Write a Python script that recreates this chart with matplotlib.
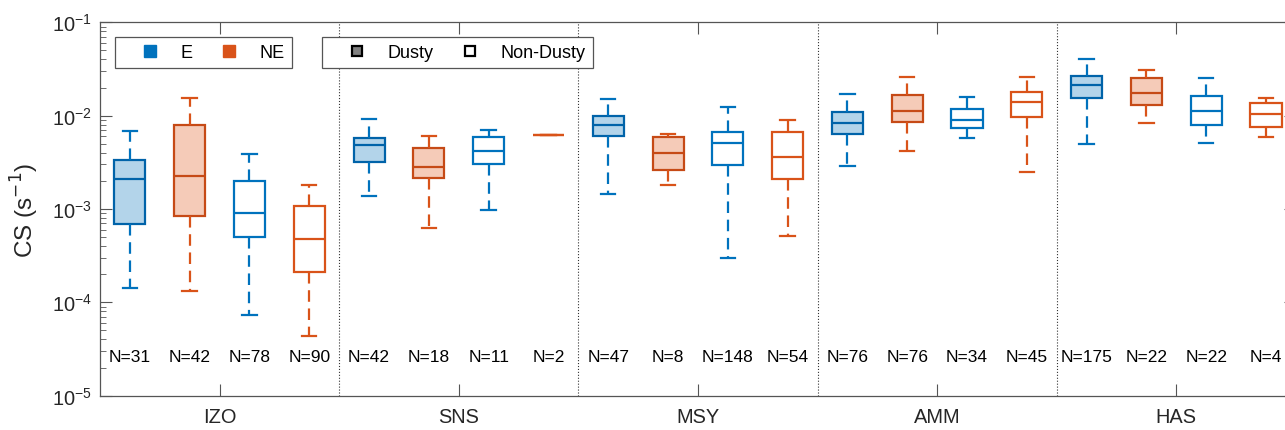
import numpy as np
import matplotlib
matplotlib.use("Agg")
import matplotlib.pyplot as plt
from matplotlib.lines import Line2D

plt.rcParams['font.family'] = ['Liberation Sans', 'DejaVu Sans']

# sites and box order inside each site: E dusty, NE dusty, E non-dusty, NE non-dusty
sites = ['IZO', 'SNS', 'MSY', 'AMM', 'HAS']
sectors = ['E', 'NE', 'E', 'NE']
dusty = [True, True, False, False]

n_obs = [31, 42, 78, 90,
         42, 18, 11, 2,
         47, 8, 148, 54,
         76, 76, 34, 45,
         175, 22, 22, 4]

whislo = [1.42e-4, 1.31e-4, 7.4e-5, 4.33e-5,
          1.37e-3, 6.3e-4, 9.75e-4, 6.26e-3,
          1.44e-3, 1.79e-3, 2.99e-4, 5.1e-4,
          2.86e-3, 4.18e-3, 5.71e-3, 2.51e-3,
          5.0e-3, 8.28e-3, 5.05e-3, 5.86e-3]
q1 = [6.9e-4, 8.4e-4, 5.0e-4, 2.13e-4,
      3.19e-3, 2.15e-3, 3.06e-3, 6.26e-3,
      6.05e-3, 2.61e-3, 2.94e-3, 2.09e-3,
      6.3e-3, 8.55e-3, 7.43e-3, 9.66e-3,
      1.53e-2, 1.29e-2, 7.87e-3, 7.62e-3]
med = [2.11e-3, 2.26e-3, 8.97e-4, 4.76e-4,
       4.89e-3, 2.79e-3, 4.18e-3, 6.26e-3,
       8.0e-3, 3.98e-3, 5.05e-3, 3.63e-3,
       8.28e-3, 1.13e-2, 8.97e-3, 1.40e-2,
       2.11e-2, 1.73e-2, 1.11e-2, 1.04e-2]
q3 = [3.37e-3, 7.94e-3, 2.01e-3, 1.08e-3,
      5.8e-3, 4.54e-3, 5.9e-3, 6.26e-3,
      9.84e-3, 5.9e-3, 6.73e-3, 6.62e-3,
      1.09e-2, 1.65e-2, 1.19e-2, 1.79e-2,
      2.68e-2, 2.55e-2, 1.64e-2, 1.35e-2]
whishi = [6.8e-3, 1.55e-2, 3.91e-3, 1.82e-3,
          9.2e-3, 6.1e-3, 6.97e-3, 6.26e-3,
          1.51e-2, 6.41e-3, 1.24e-2, 8.9e-3,
          1.69e-2, 2.61e-2, 1.58e-2, 2.61e-2,
          4.07e-2, 3.08e-2, 2.51e-2, 1.53e-2]

blue = '#0072BD'
orange = '#D95319'
colors = {'E': blue, 'NE': orange}
dark_edge = {'E': '#0063A9', 'NE': '#C64A16'}
light_fill = {'E': '#B3D4EA', 'NE': '#F5CBB8'}
axis_col = '#555555'
text_col = '#262626'

fig = plt.figure(figsize=(12.85, 4.31), dpi=100)
ax = fig.add_axes([0.0778, 0.0796, 0.9307, 0.8664])

lw = 1.6
for i in range(len(n_obs)):
    sec = sectors[i % 4]
    is_dusty = dusty[i % 4]
    c = colors[sec]
    edge = dark_edge[sec] if is_dusty else c
    face = light_fill[sec] if is_dusty else 'white'
    st = dict(whislo=whislo[i], q1=q1[i], med=med[i], q3=q3[i],
              whishi=whishi[i], fliers=[])
    ax.bxp([st], positions=[i + 1], widths=0.52, capwidths=0.24,
           patch_artist=True, showfliers=False, manage_ticks=False,
           boxprops=dict(facecolor=face, edgecolor=edge, linewidth=lw),
           medianprops=dict(color=edge, linewidth=lw),
           whiskerprops=dict(color=c, linewidth=lw, linestyle=(0, (5.2, 3))),
           capprops=dict(color=c, linewidth=lw))
    ax.text(i + 1, 0.104, 'N=%d' % n_obs[i], transform=ax.get_xaxis_transform(),
            ha='center', va='center', fontsize=12.5, color='black')

for k in range(1, len(sites)):
    ax.axvline(4 * k + 0.5, color='#333333', linestyle=':', linewidth=0.8)

ax.set_yscale('log')
ax.set_ylim(1e-5, 1e-1)
ax.set_xlim(0.5, 20.5)
ax.set_xticks([4 * k + 2.5 for k in range(len(sites))])
ax.set_xticklabels(sites)

ax.tick_params(axis='both', which='both', direction='in', top=True, right=True,
               colors=axis_col, labelcolor=text_col, labelsize=14.4)
ax.tick_params(axis='x', which='major', length=8.6, pad=8)
ax.tick_params(axis='y', which='major', length=8.6, pad=6)
ax.tick_params(axis='y', which='minor', length=4.3)
for sp in ax.spines.values():
    sp.set_color(axis_col)
    sp.set_linewidth(0.9)

ax.set_ylabel('CS (s$^{-1}$)', fontsize=17.5, color=text_col)
ax.yaxis.set_label_coords(-0.049, 0.5)

leg_kw = dict(ncol=2, loc='upper left', borderaxespad=0, fontsize=13,
              fancybox=False, edgecolor=axis_col, framealpha=1,
              handlelength=3.1, handletextpad=0.13, columnspacing=0.47,
              borderpad=0.4)

h1 = [Line2D([], [], marker='s', ls='none', mfc=blue, mec=blue, ms=8.4),
      Line2D([], [], marker='s', ls='none', mfc=orange, mec=orange, ms=8.4)]
leg1 = ax.legend(h1, ['E', 'NE'], bbox_to_anchor=(0.0125, 0.961), **leg_kw)
leg1.get_frame().set_linewidth(0.9)
ax.add_artist(leg1)

h2 = [Line2D([], [], marker='s', ls='none', mfc='#808080', mec='black', ms=7.5, mew=1.6),
      Line2D([], [], marker='s', ls='none', mfc='white', mec='black', ms=7.5, mew=1.6)]
leg2 = ax.legend(h2, ['Dusty', 'Non-Dusty'], bbox_to_anchor=(0.1856, 0.961), **leg_kw)
leg2.get_frame().set_linewidth(0.9)

fig.savefig('out.png', dpi=100)
